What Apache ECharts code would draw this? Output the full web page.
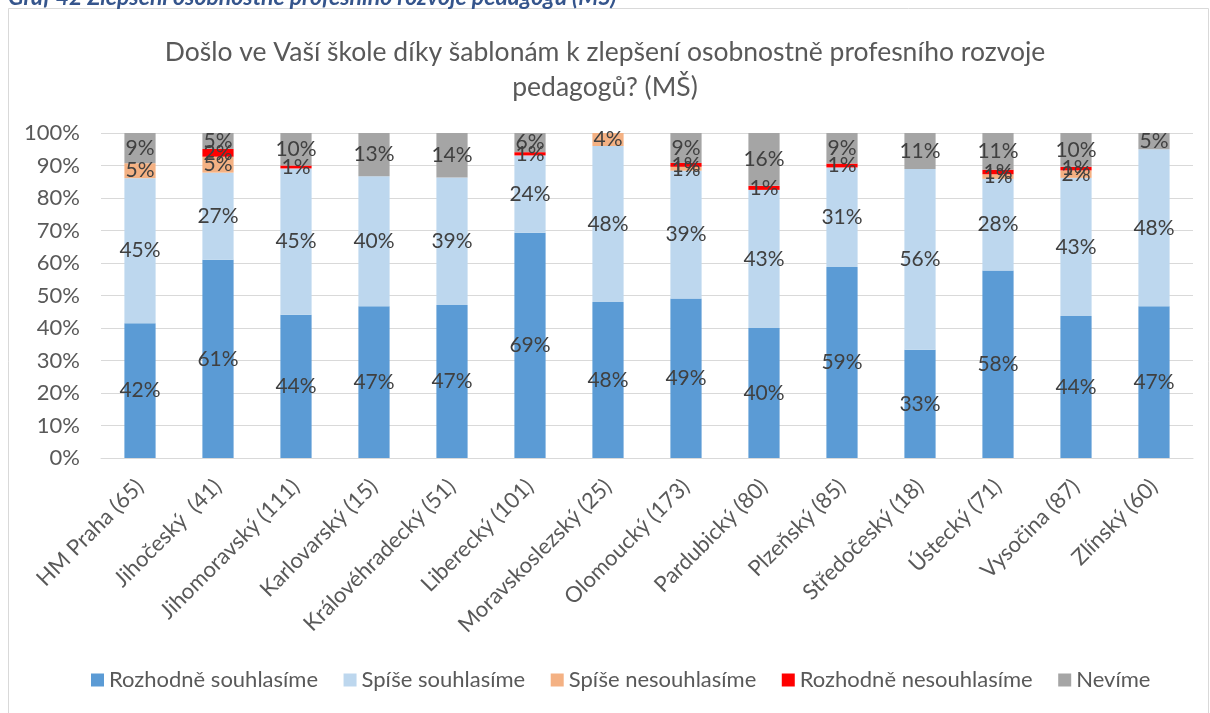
<!DOCTYPE html>
<html>
<head>
<meta charset="utf-8">
<script src="https://cdn.jsdelivr.net/npm/echarts@6/dist/echarts.min.js"></script>
<style>
  html, body { margin: 0; padding: 0; background: #ffffff; }
  #chart { width: 1210px; height: 713px; }
</style>
</head>
<body>
<div id="chart"></div>
<script>
// Regions (number of responding schools in brackets)
const categories = [
  'HM Praha (65)', 'Jihočeský  (41)', 'Jihomoravský (111)', 'Karlovarský (15)',
  'Královéhradecký (51)', 'Liberecký (101)', 'Moravskoslezský (25)', 'Olomoucký (173)',
  'Pardubický (80)', 'Plzeňský (85)', 'Středočeský (18)', 'Ústecký (71)',
  'Vysočina (87)', 'Zlínský (60)'
];

// Shares of answers in %, per region
const rozhodneSouhlasime   = [41.5, 61.0, 44.1, 46.7, 47.1, 69.3, 48.0, 49.1, 40.0, 58.8, 33.3, 57.7, 43.7, 46.7];
const spiseSouhlasime      = [44.6, 26.8, 45.0, 40.0, 39.2, 23.8, 48.0, 39.3, 42.5, 30.6, 55.6, 28.2, 42.5, 48.3];
const spiseNesouhlasime    = [4.6, 4.9, 0, 0, 0, 0, 4.0, 1.2, 0, 0, 0, 1.4, 2.3, 0];
const rozhodneNesouhlasime = [0, 2.4, 0.9, 0, 0, 1.0, 0, 1.2, 1.25, 1.2, 0, 1.4, 1.1, 0];
const nevime               = [9.3, 4.9, 10.0, 13.3, 13.7, 5.9, 0, 9.2, 16.25, 9.4, 11.1, 11.3, 10.4, 5.0];

const yTicks = [0, 10, 20, 30, 40, 50, 60, 70, 80, 90, 100];

const FONT = 'Lato';
const TEXT = '#595959';

const seriesDefs = [
  { name: 'Rozhodně souhlasíme',   data: rozhodneSouhlasime,   color: '#5b9bd5' },
  { name: 'Spíše souhlasíme',      data: spiseSouhlasime,      color: '#bdd7ee' },
  { name: 'Spíše nesouhlasíme',    data: spiseNesouhlasime,    color: '#f4b183' },
  { name: 'Rozhodně nesouhlasíme', data: rozhodneNesouhlasime, color: '#ff0000' },
  { name: 'Nevíme',                data: nevime,               color: '#a5a5a5' }
];

const chart = echarts.init(document.getElementById('chart'), null, { renderer: 'canvas' });

chart.setOption({
  animation: false,
  backgroundColor: '#ffffff',
  textStyle: { fontFamily: FONT },
  graphic: [
    {
      type: 'rect',
      shape: { x: 8.5, y: 8.5, width: 1200, height: 740 },
      style: { fill: '#ffffff', stroke: '#d9d9d9', lineWidth: 1 },
      z: -10
    },
    {
      type: 'text',
      left: 8,
      top: -14,
      style: {
        text: 'Graf 42 Zlepšení osobnostně profesního rozvoje pedagogů (MŠ)',
        font: 'italic bold 23px ' + FONT,
        fill: '#35558c'
      }
    }
  ],
  title: {
    text: 'Došlo ve Vaší škole díky šablonám k zlepšení osobnostně profesního rozvoje\npedagogů? (MŠ)',
    left: 'center',
    top: 30,
    textStyle: {
      fontFamily: FONT,
      fontSize: 26.5,
      fontWeight: 'normal',
      color: TEXT,
      lineHeight: 35,
      align: 'center'
    }
  },
  legend: {
    bottom: 17,
    left: 86,
    itemWidth: 13,
    itemHeight: 13,
    itemGap: 25.5,
    icon: 'rect',
    textStyle: { fontFamily: FONT, fontSize: 22, color: TEXT },
    data: seriesDefs.map(s => s.name)
  },
  grid: { left: 101, right: 17, top: 133, bottom: 255, containLabel: false },
  xAxis: {
    type: 'category',
    data: categories,
    axisLine: { lineStyle: { color: '#d9d9d9', width: 1 } },
    axisTick: { show: false },
    axisLabel: {
      interval: 0,
      rotate: 45,
      margin: 25,
      fontFamily: FONT,
      fontSize: 22,
      color: TEXT
    }
  },
  yAxis: {
    type: 'value',
    min: 0,
    max: 100,
    interval: 10,
    axisLine: { show: false },
    axisTick: { show: false },
    splitLine: { lineStyle: { color: '#d9d9d9', width: 1 } },
    axisLabel: {
      margin: 21,
      fontFamily: FONT,
      fontSize: 22,
      color: TEXT,
      formatter: v => (yTicks.includes(v) ? v + '%' : '')
    }
  },
  series: seriesDefs.map(s => ({
    name: s.name,
    type: 'bar',
    stack: 'total',
    barWidth: '40%',
    data: s.data,
    itemStyle: { color: s.color },
    label: {
      show: true,
      position: 'inside',
      fontFamily: FONT,
      fontSize: 21,
      color: '#404040',
      formatter: p => (p.value > 0 ? Math.round(p.value) + '%' : '')
    }
  }))
});
</script>
</body>
</html>
